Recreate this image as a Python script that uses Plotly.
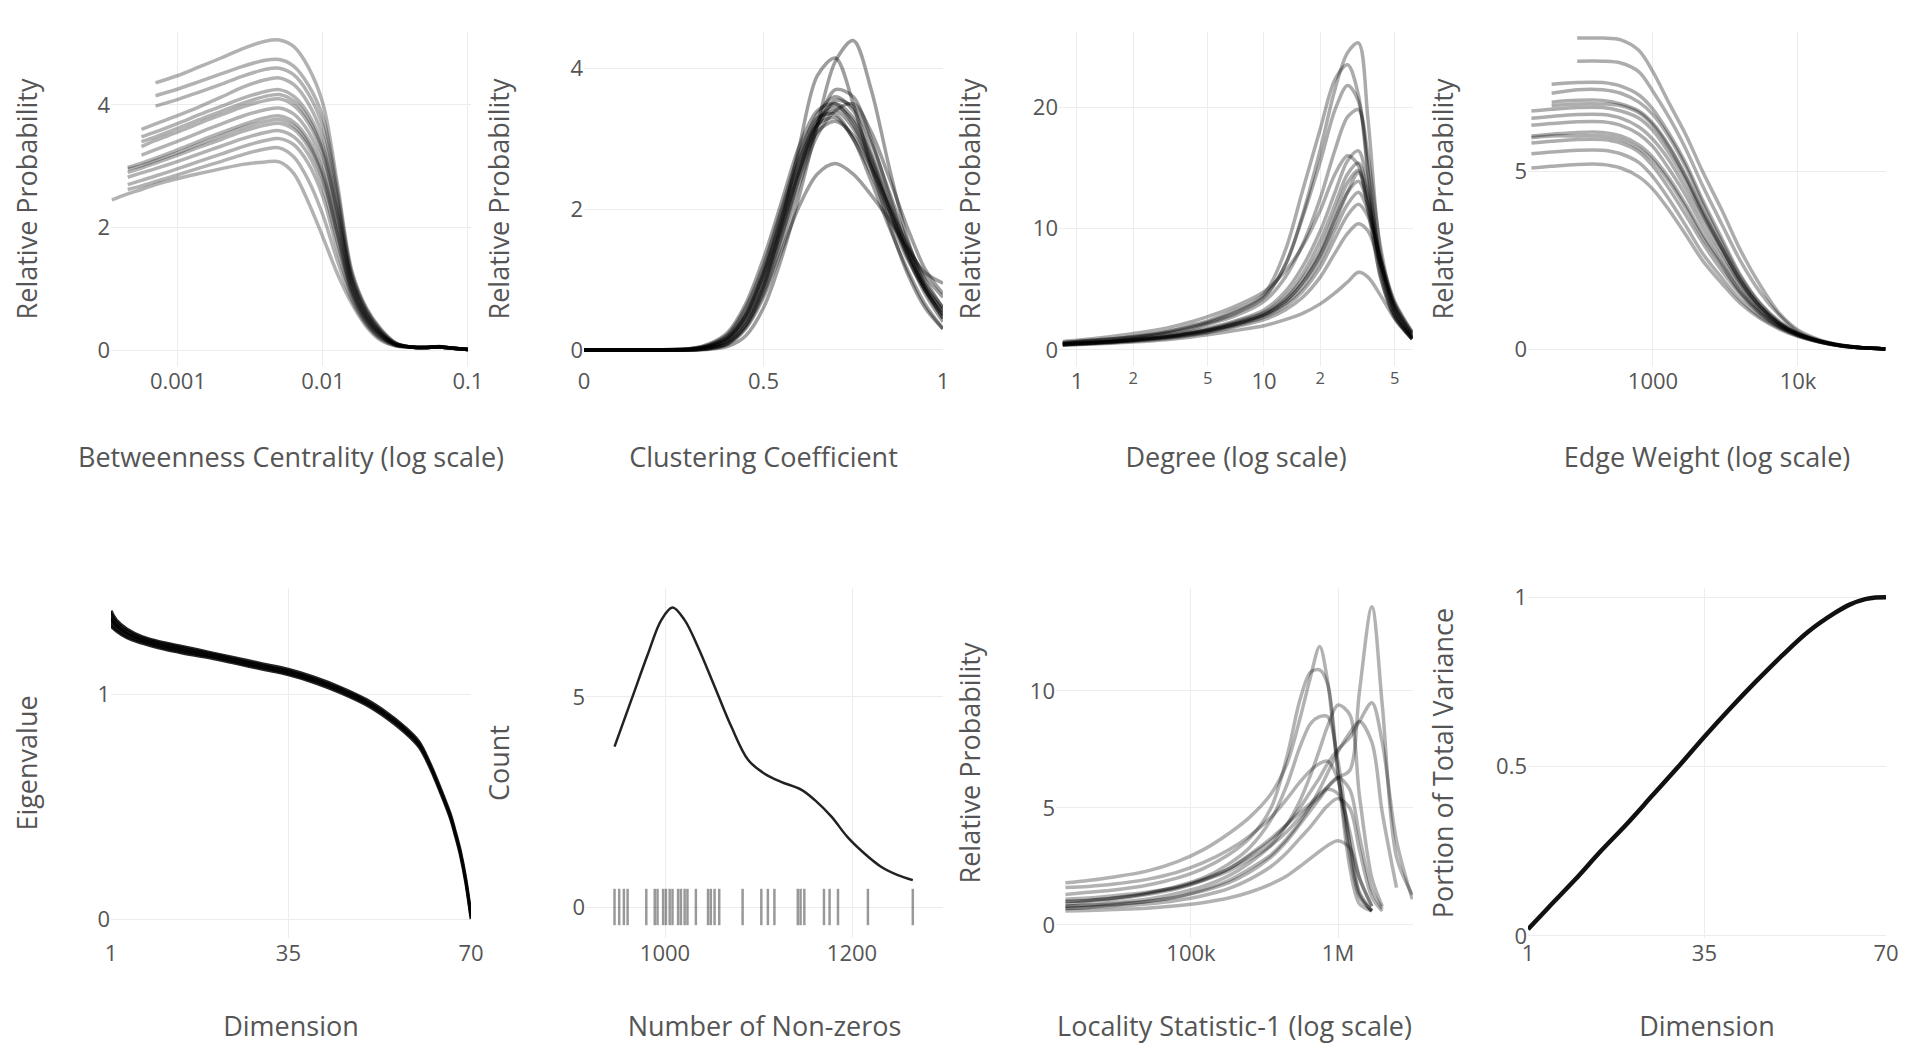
import plotly.graph_objects as go

# ---------------------------------------------------------------- data
# Panel 1: Betweenness centrality (log x)
BC_X = [0.00035, 0.00045, 0.00056, 0.0007, 0.001, 0.0014, 0.002, 0.0028, 0.004, 0.005, 0.0063, 0.0079,
        0.01, 0.0126, 0.0158, 0.02, 0.025, 0.0316, 0.04, 0.05, 0.063, 0.079, 0.1]
BC_CURVES = [
    [None, None, None, 4.36, 4.48, 4.62, 4.77, 4.92, 5.04, 5.06, 4.95, 4.62, 4.02, 2.70, 1.30, 0.68, 0.35, 0.12, 0.05, 0.04, 0.06, 0.03, 0.01],
    [None, None, None, 4.15, 4.26, 4.38, 4.51, 4.63, 4.73, 4.74, 4.63, 4.33, 3.80, 2.60, 1.26, 0.66, 0.33, 0.12, 0.05, 0.04, 0.06, 0.03, 0.01],
    [None, None, None, 3.98, 4.09, 4.21, 4.34, 4.47, 4.58, 4.60, 4.49, 4.19, 3.65, 2.50, 1.22, 0.64, 0.32, 0.11, 0.05, 0.04, 0.05, 0.03, 0.01],
    [None, None, 3.60, 3.69, 3.83, 3.97, 4.13, 4.29, 4.41, 4.44, 4.33, 4.03, 3.48, 2.40, 1.18, 0.61, 0.30, 0.11, 0.05, 0.04, 0.05, 0.03, 0.01],
    [None, None, 3.48, 3.56, 3.70, 3.84, 3.98, 4.11, 4.22, 4.25, 4.14, 3.86, 3.32, 2.28, 1.14, 0.58, 0.28, 0.10, 0.05, 0.04, 0.05, 0.03, 0.01],
    [None, None, 3.40, 3.48, 3.62, 3.76, 3.90, 4.03, 4.14, 4.17, 4.06, 3.78, 3.25, 2.22, 1.12, 0.57, 0.28, 0.10, 0.05, 0.04, 0.05, 0.03, 0.01],
    [None, None, 3.32, 3.42, 3.56, 3.70, 3.84, 3.97, 4.07, 4.10, 3.99, 3.71, 3.18, 2.18, 1.10, 0.56, 0.27, 0.10, 0.05, 0.04, 0.05, 0.03, 0.01],
    [None, None, 3.18, 3.27, 3.41, 3.55, 3.69, 3.82, 3.92, 3.95, 3.85, 3.57, 3.04, 2.06, 1.05, 0.53, 0.26, 0.09, 0.05, 0.04, 0.05, 0.03, 0.01],
    [None, 2.98, 3.05, 3.13, 3.27, 3.41, 3.55, 3.68, 3.79, 3.82, 3.72, 3.44, 2.90, 1.96, 1.00, 0.51, 0.24, 0.09, 0.05, 0.04, 0.05, 0.03, 0.01],
    [None, 2.95, 3.01, 3.09, 3.22, 3.36, 3.50, 3.63, 3.73, 3.76, 3.66, 3.38, 2.84, 1.90, 0.98, 0.50, 0.24, 0.09, 0.05, 0.04, 0.05, 0.03, 0.01],
    [None, 2.90, 2.97, 3.05, 3.18, 3.31, 3.44, 3.57, 3.67, 3.70, 3.60, 3.32, 2.78, 1.86, 0.96, 0.48, 0.23, 0.09, 0.05, 0.04, 0.05, 0.03, 0.01],
    [None, 2.82, 2.89, 2.96, 3.08, 3.20, 3.33, 3.45, 3.55, 3.58, 3.48, 3.20, 2.65, 1.75, 0.92, 0.46, 0.21, 0.08, 0.05, 0.04, 0.05, 0.03, 0.01],
    [None, 2.70, 2.77, 2.84, 2.96, 3.08, 3.20, 3.32, 3.42, 3.45, 3.35, 3.05, 2.50, 1.62, 0.88, 0.44, 0.20, 0.08, 0.05, 0.04, 0.05, 0.03, 0.01],
    [None, 2.62, 2.68, 2.75, 2.86, 2.97, 3.08, 3.19, 3.28, 3.30, 3.15, 2.78, 2.20, 1.45, 0.82, 0.41, 0.18, 0.07, 0.05, 0.04, 0.05, 0.03, 0.01],
    [2.45, 2.55, 2.62, 2.70, 2.80, 2.88, 2.96, 3.03, 3.07, 3.07, 2.88, 2.42, 1.84, 1.24, 0.76, 0.38, 0.16, 0.07, 0.05, 0.04, 0.05, 0.03, 0.01],
]

# Panel 2: Clustering coefficient
CC_X = [0, 0.1, 0.2, 0.3, 0.35, 0.4, 0.45, 0.5, 0.55, 0.6, 0.65, 0.7, 0.75, 0.8, 0.85, 0.9, 0.95, 1.0]
CC_CURVES = [
    [0, 0, 0, 0, 0.01, 0.05, 0.20, 0.60, 1.30, 2.20, 3.20, 4.10, 4.40, 3.70, 2.60, 1.60, 0.90, 0.45],
    [0, 0, 0, 0, 0.02, 0.10, 0.35, 0.90, 1.80, 2.90, 3.90, 4.15, 3.50, 2.60, 1.80, 1.10, 0.60, 0.30],
    [0, 0, 0, 0.01, 0.06, 0.18, 0.50, 1.10, 1.90, 2.75, 3.35, 3.60, 3.40, 2.80, 2.10, 1.45, 0.95, 0.60],
    [0, 0, 0, 0.01, 0.04, 0.14, 0.42, 0.95, 1.70, 2.55, 3.25, 3.50, 3.30, 2.75, 2.05, 1.40, 0.90, 0.55],
    [0, 0, 0, 0.02, 0.07, 0.20, 0.55, 1.15, 1.95, 2.70, 3.20, 3.30, 3.00, 2.50, 1.90, 1.30, 0.85, 0.50],
    [0, 0, 0, 0.01, 0.05, 0.15, 0.45, 1.00, 1.75, 2.55, 3.10, 3.25, 3.05, 2.60, 2.05, 1.50, 1.05, 0.75],
    [0, 0, 0, 0, 0.03, 0.10, 0.35, 0.85, 1.60, 2.45, 3.15, 3.55, 3.45, 2.95, 2.25, 1.55, 1.00, 0.60],
    [0, 0, 0, 0.01, 0.05, 0.16, 0.48, 1.05, 1.80, 2.60, 3.20, 3.40, 3.15, 2.60, 1.95, 1.35, 0.85, 0.50],
    [0, 0, 0, 0, 0.02, 0.08, 0.30, 0.75, 1.40, 2.05, 2.50, 2.65, 2.50, 2.20, 1.85, 1.45, 1.10, 0.95],
    [0, 0, 0, 0.02, 0.08, 0.22, 0.60, 1.20, 2.00, 2.80, 3.30, 3.35, 3.00, 2.40, 1.75, 1.15, 0.65, 0.30],
    [0, 0, 0, 0.01, 0.04, 0.13, 0.40, 0.90, 1.65, 2.50, 3.20, 3.70, 3.60, 3.00, 2.20, 1.45, 0.85, 0.45],
    [0, 0, 0, 0, 0.02, 0.09, 0.32, 0.80, 1.50, 2.35, 3.05, 3.40, 3.50, 3.10, 2.45, 1.75, 1.15, 0.80],
    [0, 0, 0, 0.01, 0.06, 0.18, 0.50, 1.08, 1.85, 2.65, 3.25, 3.45, 3.25, 2.70, 2.00, 1.35, 0.80, 0.40],
    [0, 0, 0, 0.02, 0.09, 0.25, 0.65, 1.30, 2.10, 2.90, 3.40, 3.50, 3.20, 2.65, 2.00, 1.40, 0.90, 0.55],
]

# Panel 3: Degree (log x)
DEG_X = [0.84, 1, 1.5, 2, 3, 4, 5, 7, 10, 13, 16, 20, 24, 28, 32, 36, 42, 50, 62]
DEG_CURVES = [
    [0.60, 0.70, 0.90, 1.10, 1.50, 1.90, 2.30, 3.10, 4.40, 7.0, 11.0, 16.5, 21.5, 24.5, 25.3, 19.0, 8.0, 3.2, 1.0],
    [0.60, 0.70, 0.90, 1.10, 1.50, 2.00, 2.40, 3.30, 4.60, 8.2, 13.0, 18.2, 22.3, 23.5, 21.0, 14.5, 6.5, 2.8, 0.9],
    [0.55, 0.65, 0.85, 1.05, 1.40, 1.80, 2.20, 3.00, 4.30, 7.0, 10.8, 15.5, 19.8, 21.8, 20.5, 15.0, 7.0, 2.9, 0.9],
    [0.50, 0.60, 0.80, 1.00, 1.35, 1.70, 2.10, 2.80, 4.00, 6.0, 8.6, 12.5, 16.5, 19.2, 19.8, 16.0, 8.5, 3.5, 1.1],
    [0.50, 0.55, 0.70, 0.90, 1.20, 1.50, 1.80, 2.40, 3.30, 4.8, 6.8, 9.8, 13.0, 15.6, 16.4, 13.5, 7.5, 3.2, 1.0],
    [0.45, 0.50, 0.65, 0.80, 1.10, 1.40, 1.70, 2.30, 3.10, 4.4, 6.2, 9.0, 12.0, 14.5, 15.4, 12.8, 7.2, 3.3, 1.1],
    [0.50, 0.55, 0.70, 0.85, 1.10, 1.40, 1.65, 2.20, 3.00, 4.2, 5.8, 8.3, 11.3, 13.8, 14.8, 12.5, 7.0, 3.5, 1.2],
    [0.45, 0.50, 0.65, 0.80, 1.05, 1.30, 1.55, 2.10, 2.90, 4.0, 5.5, 7.9, 10.8, 13.0, 13.9, 12.0, 7.2, 3.6, 1.3],
    [0.50, 0.55, 0.70, 0.85, 1.10, 1.35, 1.60, 2.10, 2.80, 3.8, 5.1, 7.3, 9.9, 12.0, 13.0, 11.5, 7.5, 3.8, 1.4],
    [0.45, 0.50, 0.62, 0.75, 1.00, 1.25, 1.50, 2.00, 2.70, 3.6, 4.8, 6.8, 9.2, 11.1, 12.0, 11.0, 7.6, 4.0, 1.5],
    [0.40, 0.45, 0.60, 0.72, 0.95, 1.20, 1.42, 1.90, 2.50, 3.3, 4.3, 6.0, 8.0, 9.6, 10.4, 9.8, 7.0, 3.8, 1.4],
    [0.40, 0.45, 0.55, 0.65, 0.85, 1.05, 1.25, 1.60, 2.00, 2.5, 3.0, 3.8, 4.7, 5.6, 6.4, 6.0, 4.5, 2.6, 1.0],
    [0.70, 0.80, 1.10, 1.35, 1.80, 2.30, 2.75, 3.60, 4.80, 6.5, 8.5, 11.5, 14.5, 16.0, 15.2, 11.5, 6.0, 2.6, 0.9],
    [0.50, 0.55, 0.68, 0.82, 1.08, 1.35, 1.60, 2.15, 2.90, 4.0, 5.5, 7.8, 10.5, 13.0, 14.6, 12.0, 6.0, 2.8, 0.9],
]

# Panel 4: Edge weight (log x)
EW_X = [145, 200, 300, 450, 600, 800, 1000, 1300, 1700, 2200, 3000, 4000, 5500, 7500, 10000, 14000, 20000, 28000, 40000]
EW_CURVES = [
    [None, None, 8.75, 8.75, 8.70, 8.40, 7.80, 6.90, 6.00, 5.00, 3.90, 2.80, 1.80, 1.00, 0.55, 0.28, 0.12, 0.05, 0.02],
    [None, None, 8.10, 8.10, 8.05, 7.80, 7.25, 6.50, 5.60, 4.60, 3.50, 2.50, 1.60, 0.95, 0.50, 0.26, 0.12, 0.05, 0.02],
    [None, 7.45, 7.50, 7.50, 7.40, 7.15, 6.75, 6.05, 5.20, 4.20, 3.10, 2.10, 1.30, 0.78, 0.46, 0.25, 0.12, 0.05, 0.02],
    [None, 7.20, 7.30, 7.30, 7.20, 6.95, 6.60, 5.95, 5.10, 4.10, 3.00, 2.05, 1.28, 0.76, 0.45, 0.25, 0.12, 0.05, 0.02],
    [None, 6.95, 7.00, 7.00, 6.90, 6.70, 6.35, 5.70, 4.85, 3.90, 2.85, 1.95, 1.20, 0.72, 0.44, 0.24, 0.11, 0.05, 0.02],
    [None, 6.85, 6.90, 6.90, 6.85, 6.65, 6.30, 5.65, 4.80, 3.85, 2.85, 1.95, 1.20, 0.72, 0.44, 0.24, 0.11, 0.05, 0.02],
    [6.70, 6.75, 6.80, 6.80, 6.70, 6.50, 6.15, 5.50, 4.70, 3.80, 2.80, 1.90, 1.20, 0.72, 0.44, 0.24, 0.11, 0.05, 0.02],
    [6.50, 6.55, 6.60, 6.60, 6.50, 6.25, 5.90, 5.30, 4.50, 3.65, 2.70, 1.85, 1.15, 0.70, 0.43, 0.24, 0.11, 0.05, 0.02],
    [6.30, 6.35, 6.40, 6.40, 6.30, 6.05, 5.70, 5.05, 4.30, 3.45, 2.55, 1.75, 1.10, 0.68, 0.42, 0.23, 0.11, 0.05, 0.02],
    [6.00, 6.05, 6.10, 6.10, 6.00, 5.75, 5.40, 4.80, 4.05, 3.25, 2.40, 1.65, 1.05, 0.65, 0.41, 0.23, 0.11, 0.05, 0.02],
    [5.95, 6.00, 6.00, 6.00, 5.90, 5.65, 5.30, 4.70, 3.95, 3.15, 2.35, 1.60, 1.02, 0.64, 0.40, 0.22, 0.10, 0.05, 0.02],
    [5.80, 5.85, 5.90, 5.90, 5.80, 5.55, 5.15, 4.50, 3.75, 3.00, 2.20, 1.55, 1.00, 0.62, 0.40, 0.22, 0.10, 0.05, 0.02],
    [5.50, 5.55, 5.60, 5.60, 5.50, 5.25, 4.85, 4.20, 3.45, 2.70, 2.00, 1.40, 0.92, 0.60, 0.38, 0.22, 0.10, 0.05, 0.02],
    [5.10, 5.15, 5.20, 5.20, 5.10, 4.85, 4.50, 3.90, 3.20, 2.50, 1.85, 1.30, 0.87, 0.57, 0.37, 0.21, 0.10, 0.05, 0.02],
]

# Panel 5: Eigenvalues (scree band)
EIG_DIM = [1, 2, 4, 7, 10, 15, 20, 25, 30, 35, 40, 45, 50, 54, 57, 60, 62, 64, 66, 67, 68, 69, 70]
EIG_UPPER = [1.37, 1.33, 1.29, 1.255, 1.235, 1.21, 1.185, 1.16, 1.135, 1.11, 1.075, 1.03, 0.975, 0.915, 0.86, 0.79, 0.70, 0.59, 0.47, 0.39, 0.30, 0.18, 0.02]
EIG_MID = [1.335, 1.305, 1.27, 1.24, 1.22, 1.195, 1.172, 1.148, 1.122, 1.098, 1.062, 1.018, 0.962, 0.902, 0.848, 0.778, 0.69, 0.58, 0.46, 0.38, 0.29, 0.17, 0.01]
EIG_LOWER = [1.30, 1.28, 1.25, 1.225, 1.205, 1.18, 1.16, 1.135, 1.11, 1.085, 1.05, 1.005, 0.95, 0.89, 0.835, 0.765, 0.68, 0.57, 0.45, 0.37, 0.28, 0.16, 0.0]

# Panel 6: Number of non-zeros (density + rug)
NNZ_X = [946, 964, 982, 996, 1008, 1021, 1035, 1053, 1071, 1089, 1106, 1124, 1146, 1160, 1178, 1195, 1213, 1231, 1249, 1265]
NNZ_COUNT = [3.82, 4.93, 6.04, 6.83, 7.13, 6.83, 6.20, 5.25, 4.29, 3.50, 3.18, 2.98, 2.79, 2.55, 2.15, 1.67, 1.28, 0.96, 0.76, 0.64]
NNZ_RUG = [946, 951, 956, 960, 980, 989, 992, 998, 1001, 1005, 1008, 1014, 1017, 1021, 1024, 1033, 1046, 1049,
           1053, 1058, 1083, 1103, 1110, 1117, 1142, 1145, 1149, 1170, 1176, 1185, 1217, 1265]

# Panel 7: Locality statistic-1 (log x)
LS_X = [14000, 20000, 30000, 50000, 80000, 120000, 180000, 250000, 350000, 450000, 550000, 650000, 750000,
        850000, 1000000, 1200000, 1400000, 1700000, 2000000, 2500000, 3200000]
LS_CURVES = [
    [0.9, 1.0, 1.1, 1.3, 1.55, 1.9, 2.4, 3.0, 3.7, 4.3, 4.8, 5.2, 5.6, 5.9, 6.3, 6.6, 10.0, 13.6, 9.4, 2.9, 1.3],
    [1.8, 1.9, 2.05, 2.3, 2.7, 3.2, 3.9, 4.6, 5.6, 6.9, 8.8, 10.6, 11.9, 10.4, 6.5, 3.0, 1.2, 0.6, None, None, None],
    [1.3, 1.4, 1.5, 1.7, 2.0, 2.4, 3.0, 3.7, 5.0, 7.2, 9.6, 10.8, 10.9, 10.3, 6.5, 2.5, 0.9, 0.6, None, None, None],
    [1.0, 1.05, 1.15, 1.35, 1.6, 1.95, 2.4, 2.95, 3.6, 4.3, 5.0, 5.7, 6.3, 6.9, 7.5, 8.0, 8.7, 9.5, 7.8, 3.6, 1.1],
    [1.0, 1.05, 1.15, 1.35, 1.65, 2.0, 2.6, 3.3, 4.5, 6.0, 7.6, 8.6, 8.9, 8.9, 7.0, 3.5, 1.3, 0.6, None, None, None],
    [0.8, 0.85, 0.95, 1.1, 1.35, 1.65, 2.1, 2.65, 3.4, 4.3, 5.3, 6.4, 7.5, 8.5, 9.4, 9.0, 5.5, 2.0, 0.8, None, None],
    [0.7, 0.75, 0.85, 1.0, 1.2, 1.5, 1.9, 2.4, 3.0, 3.7, 4.4, 5.1, 5.8, 6.5, 7.4, 8.2, 8.7, 7.8, 4.8, 1.6, None],
    [0.8, 0.85, 0.9, 1.0, 1.2, 1.45, 1.8, 2.25, 2.9, 3.6, 4.3, 4.9, 5.4, 5.8, 5.6, 4.0, 2.0, 0.8, None, None, None],
    [0.7, 0.75, 0.8, 0.9, 1.05, 1.25, 1.55, 1.95, 2.5, 3.1, 3.7, 4.2, 4.7, 5.1, 5.4, 5.0, 3.2, 1.2, 0.6, None, None],
    [0.6, 0.62, 0.66, 0.72, 0.82, 0.95, 1.15, 1.4, 1.75, 2.1, 2.5, 2.85, 3.15, 3.4, 3.6, 3.3, 2.0, 0.8, None, None, None],
    [1.1, 1.15, 1.25, 1.4, 1.6, 1.9, 2.3, 2.8, 3.4, 4.0, 4.6, 5.1, 5.5, 5.9, 6.3, 5.8, 3.8, 1.5, 0.7, None, None],
    [1.6, 1.65, 1.75, 1.95, 2.25, 2.65, 3.2, 3.8, 4.6, 5.4, 6.1, 6.6, 6.9, 7.0, 6.2, 3.5, 1.4, 0.6, None, None, None],
]

# Panel 8: Cumulative portion of total variance
VAR_DIM = [1, 5, 10, 15, 20, 25, 30, 35, 40, 45, 50, 55, 60, 63, 66, 68, 70]
VAR_CUM = [0.02, 0.085, 0.165, 0.25, 0.33, 0.415, 0.50, 0.588, 0.672, 0.752, 0.828, 0.898, 0.952, 0.978, 0.994, 0.999, 1.0]

# Tick labels / axis titles
BC_TICKS, BC_TEXT = [0.001, 0.01, 0.1], ["0.001", "0.01", "0.1"]
EW_TICKS, EW_TEXT = [1000, 10000], ["1000", "10k"]
LS_TICKS, LS_TEXT = [100000, 1000000], ["100k", "1M"]
DIM_TICKS = [1, 35, 70]
NNZ_TICKS = [1000, 1200]

# ---------------------------------------------------------------- layout
W, H = 1908, 1044
TITLE_FONT = dict(family="Open Sans", size=27, color="#555555")
TICK_FONT = dict(family="Open Sans", size=22, color="#555555")
GRID = "#ececec"


def ens(alpha):
    return dict(color=f"rgba(0,0,0,{alpha})", width=3.5, shape="spline", smoothing=0.9)


def xdom(l, r):
    return [l / W, r / W]


def ydom(t, b):
    return [1 - b / H, 1 - t / H]


TOP = ydom(24, 358)
BOT = ydom(580, 930)

# (xdomain, ydomain, x extras, y extras, x title, y title, y-title standoff, x-title standoff)
PANELS = [
    (xdom(103, 463), TOP, dict(type="log", range=[-3.462, -0.979], tickvals=BC_TICKS, ticktext=BC_TEXT),
     dict(range=[-0.26, 5.19], tickvals=[0, 2, 4]), "Betweenness Centrality (log scale)", "Relative Probability", 52, 54),
    (xdom(576, 935), TOP, dict(range=[0, 1], tickvals=[0, 0.5, 1]),
     dict(range=[-0.228, 4.52], tickvals=[0, 2, 4]), "Clustering Coefficient", "Relative Probability", 52, 54),
    (xdom(1051, 1405), TOP, dict(type="log", range=[-0.096, 1.797], dtick="D2"),
     dict(range=[-1.32, 26.2], tickvals=[0, 10, 20]), "Degree (log scale)", "Relative Probability", 44, 54),
    (xdom(1520, 1878), TOP, dict(type="log", range=[2.138, 4.607], tickvals=EW_TICKS, ticktext=EW_TEXT),
     dict(range=[-0.46, 8.92], tickvals=[0, 5]), "Edge Weight (log scale)", "Relative Probability", 52, 54),
    (xdom(103, 463), BOT, dict(range=[1, 70], tickvals=DIM_TICKS),
     dict(range=[-0.084, 1.471], tickvals=[0, 1]), "Dimension", "Eigenvalue", 51, 51),
    (xdom(578, 935), BOT, dict(range=[915.5, 1297.3], tickvals=NNZ_TICKS),
     dict(range=[-0.738, 7.595], tickvals=[0, 5]), "Number of Non-zeros", "Count", 54, 51),
    (xdom(1048, 1405), BOT, dict(type="log", range=[4.082, 6.51], tickvals=LS_TICKS, ticktext=LS_TEXT),
     dict(range=[-0.556, 14.4], tickvals=[0, 5, 10]), "Locality Statistic-1 (log scale)", "Relative Probability", 41, 51),
    (xdom(1520, 1878), BOT, dict(range=[1, 70], tickvals=DIM_TICKS),
     dict(range=[-0.006, 1.027], tickvals=[0, 0.5, 1]), "Dimension", "Portion of Total Variance", 34, 51),
]

fig = go.Figure()


def ax_ids(i):
    return ("x", "y") if i == 1 else (f"x{i}", f"y{i}")


def add_line(i, x, y, line, **kw):
    xa, ya = ax_ids(i)
    fig.add_trace(go.Scatter(x=x, y=y, mode="lines", line=line, xaxis=xa, yaxis=ya,
                             showlegend=False, hoverinfo="skip", **kw))


for c in BC_CURVES:
    add_line(1, BC_X, c, ens(0.3))
for c in CC_CURVES:
    add_line(2, CC_X, c, ens(0.38))
for c in DEG_CURVES:
    add_line(3, DEG_X, c, ens(0.33))
for c in EW_CURVES:
    add_line(4, EW_X, c, ens(0.32))

BAND = dict(color="rgba(0,0,0,0.85)", width=3, shape="spline")
add_line(5, EIG_DIM, EIG_UPPER, BAND)
add_line(5, EIG_DIM, EIG_LOWER, BAND, fill="tonexty", fillcolor="rgba(0,0,0,0.9)")
add_line(5, EIG_DIM, EIG_MID, BAND)

add_line(6, NNZ_X, NNZ_COUNT, dict(color="#222222", width=2.5, shape="spline"))
fig.add_trace(go.Scatter(x=NNZ_RUG, y=[0] * len(NNZ_RUG), mode="markers", xaxis="x6", yaxis="y6",
                         marker=dict(symbol="line-ns-open", size=26, color="rgba(0,0,0,0.4)",
                                     line=dict(color="rgba(0,0,0,0.4)", width=2.5)),
                         showlegend=False, hoverinfo="skip"))

for c in LS_CURVES:
    add_line(7, LS_X, c, ens(0.3))

add_line(8, VAR_DIM, VAR_CUM, dict(color="#111111", width=4.5, shape="spline"))

layout = dict(
    width=W, height=H, margin=dict(l=0, r=0, t=0, b=0, autoexpand=False),
    paper_bgcolor="white", plot_bgcolor="white",
    font=dict(family="Open Sans", color="#555555"),
    showlegend=False,
)
for i, (xd, yd, xextra, yextra, xt, yt, ys, xs) in enumerate(PANELS, start=1):
    xa, ya = ax_ids(i)
    xname = "xaxis" if i == 1 else f"xaxis{i}"
    yname = "yaxis" if i == 1 else f"yaxis{i}"
    layout[xname] = dict(domain=xd, anchor=ya, showgrid=True, gridcolor=GRID, zeroline=False,
                         showline=False, ticks="", tickfont=TICK_FONT, automargin=False,
                         title=dict(text=xt, font=TITLE_FONT, standoff=xs), **xextra)
    layout[yname] = dict(domain=yd, anchor=xa, showgrid=True, gridcolor=GRID, zeroline=False,
                         showline=False, ticks="", tickfont=TICK_FONT, automargin=False,
                         title=dict(text=yt, font=TITLE_FONT, standoff=ys), **yextra)

fig.update_layout(**layout)
fig.write_html("out.html")
